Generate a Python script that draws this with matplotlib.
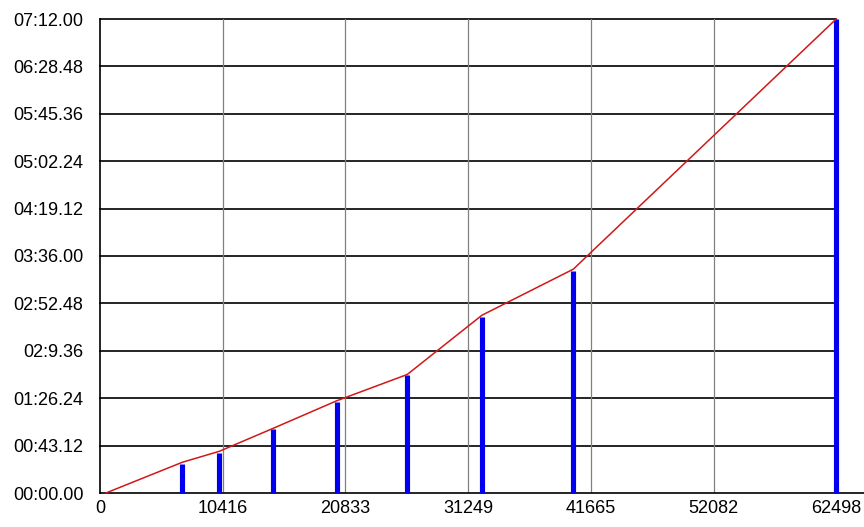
import matplotlib.pyplot as plt
import numpy as np

# values (x in units, y in seconds)
bar_x = [6986, 10127, 14712, 20085, 26080, 32420, 40180, 62498]
bar_y = [26.4, 36.7, 58.0, 83.2, 107.5, 160.7, 202.6, 432.0]

line_x = [500, 6986, 10127, 14712, 20085, 26080, 32420, 40180, 62498]
line_y = [0.0, 28.0, 38.0, 59.0, 84.0, 108.0, 162.0, 204.0, 432.0]

x_ticks = [0, 10416, 20833, 31249, 41665, 52082, 62498]
y_ticks = [0, 43.2, 86.4, 129.6, 172.8, 216.0, 259.2, 302.4, 345.6, 388.8, 432.0]
y_labels = ["00:00.00", "00:43.12", "01:26.24", "02:9.36", "02:52.48", "03:36.00",
            "04:19.12", "05:02.24", "05:45.36", "06:28.48", "07:12.00"]

plt.rcParams['font.family'] = ['Liberation Sans', 'DejaVu Sans']

fig = plt.figure(figsize=(8.64, 5.27), dpi=100)
ax = fig.add_axes([100 / 864, 1 - 493 / 527, 1 - 100 / 864, (493 - 19) / 527])

ax.set_xlim(0, 64856)
ax.set_ylim(0, 432)

# grid: black horizontals, gray verticals
for yv in y_ticks[1:]:
    ax.plot([0, x_ticks[-1]], [yv, yv], color='black', lw=1.2, zorder=1, clip_on=False)
for xv in x_ticks[1:-1]:
    ax.plot([xv, xv], [0, y_ticks[-1]], color='#808080', lw=0.9, zorder=1)

ax.vlines(bar_x, 0, bar_y, color='#0000ee', lw=3.7, zorder=3, clip_on=False)
ax.plot(line_x, line_y, color='#d01818', lw=1.1, zorder=4, clip_on=False)

ax.set_xticks(x_ticks)
ax.set_xticklabels([str(v) for v in x_ticks])
ax.set_yticks(y_ticks)
ax.set_yticklabels(y_labels)
ax.tick_params(length=0, labelsize=13, pad=5)
ax.tick_params(axis='y', pad=12)

for s in ['top', 'right']:
    ax.spines[s].set_visible(False)
ax.spines['left'].set_linewidth(1.2)
ax.spines['bottom'].set_linewidth(1.2)

plt.savefig('out.png', dpi=100)
